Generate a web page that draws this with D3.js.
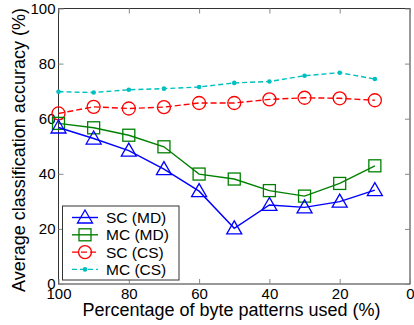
<!DOCTYPE html>
<html><head><meta charset="utf-8">
<script src="https://cdn.jsdelivr.net/npm/d3@7"></script>
<style>body{margin:0;background:#fff;} svg{display:block;}</style>
</head><body>
<svg id="chart" width="414" height="325"></svg>
<script>
const xValues = [100, 90, 80, 70, 60, 50, 40, 30, 20, 10];
const scMD = [56.8, 52.8, 48.4, 41.7, 33.7, 20.2, 28.7, 27.8, 29.9, 34.1];
const mcMD = [58.3, 56.7, 54.0, 49.8, 39.9, 38.1, 33.9, 31.9, 36.5, 42.9];
const scCS = [61.9, 64.3, 63.7, 64.2, 65.7, 65.7, 67.0, 67.6, 67.4, 66.7];
const mcCS = [69.8, 69.5, 70.5, 70.9, 71.5, 73.0, 73.5, 75.6, 76.7, 74.4];
const xTicks = [100, 80, 60, 40, 20, 0];
const yTicks = [0, 20, 40, 60, 80, 100];
const seriesNames = ["SC (MD)", "MC (MD)", "SC (CS)", "MC (CS)"];

const series = [
  {name: seriesNames[0], values: scMD, color: "#0000ff", marker: "triangle", dash: null},
  {name: seriesNames[1], values: mcMD, color: "#008000", marker: "square", dash: null},
  {name: seriesNames[2], values: scCS, color: "#ff0000", marker: "circle", dash: "6,3"},
  {name: seriesNames[3], values: mcCS, color: "#00bfbf", marker: "dot", dash: "5,3"}
];

const svg = d3.select("#chart");
const L = 58.5, R = 410, T = 8.5, B = 284;
const x = d3.scaleLinear().domain([100, 0]).range([L, R]);
const y = d3.scaleLinear().domain([0, 100]).range([B, T]);
const font = "'Liberation Sans', Arial, sans-serif";

// frame
svg.append("rect").attr("x", L).attr("y", T).attr("width", R - L).attr("height", B - T)
  .attr("fill", "none").attr("stroke", "#333").attr("stroke-width", 1);

// axes (ticks inward)
const xAxisB = d3.axisBottom(x).tickValues(xTicks).tickSize(-5).tickPadding(4).tickFormat(d3.format("d"));
const gxb = svg.append("g").attr("transform", `translate(0,${B})`).call(xAxisB);
const gxt = svg.append("g").attr("transform", `translate(0,${T})`).call(d3.axisTop(x).tickValues(xTicks).tickSize(-5).tickFormat(""));
const gyl = svg.append("g").attr("transform", `translate(${L},0)`).call(d3.axisLeft(y).tickValues(yTicks).tickSize(-5).tickPadding(3).tickFormat(d3.format("d")));
const gyr = svg.append("g").attr("transform", `translate(${R},0)`).call(d3.axisRight(y).tickValues(yTicks).tickSize(-5).tickFormat(""));
[gxb, gxt, gyl, gyr].forEach(g => {
  g.select(".domain").remove();
  g.selectAll(".tick line").attr("stroke", "#888");
  g.selectAll("text").attr("font-family", font).attr("font-size", 15).attr("fill", "#000");
});
gxb.selectAll("text").attr("dy", "0.71em");

// axis titles
svg.append("text").attr("x", 231.5).attr("y", 316).attr("text-anchor", "middle")
  .attr("font-family", font).attr("font-size", 18).text("Percentage of byte patterns used (%)");
svg.append("text").attr("transform", `translate(25,150) rotate(-90)`).attr("text-anchor", "middle")
  .attr("font-family", font).attr("font-size", 18).text("Average classification accuracy (%)");

function drawMarker(g, type, color) {
  if (type === "triangle") {
    g.append("path").attr("d", "M0,-7.5L7.5,5.5L-7.5,5.5Z").attr("fill", "none").attr("stroke", color).attr("stroke-width", 1.3);
  } else if (type === "square") {
    g.append("rect").attr("x", -6).attr("y", -6).attr("width", 12).attr("height", 12).attr("fill", "none").attr("stroke", color).attr("stroke-width", 1.3);
  } else if (type === "circle") {
    g.append("circle").attr("r", 6.5).attr("fill", "none").attr("stroke", color).attr("stroke-width", 1.3);
  } else {
    g.append("circle").attr("r", 2.3).attr("fill", color);
  }
}

const line = d3.line().x((d, i) => x(xValues[i])).y(d => y(d));
const order = [3, 2, 1, 0];
order.forEach(k => {
  const s = series[k];
  svg.append("path").datum(s.values).attr("d", line).attr("fill", "none")
    .attr("stroke", s.color).attr("stroke-width", 1.4).attr("stroke-dasharray", s.dash);
  s.values.forEach((v, i) => {
    const g = svg.append("g").attr("transform", `translate(${x(xValues[i])},${y(v)})`);
    drawMarker(g, s.marker, s.color);
  });
});

// legend
const lg = svg.append("g");
lg.append("rect").attr("x", 62.5).attr("y", 206).attr("width", 116.5).attr("height", 74)
  .attr("fill", "#fff").attr("stroke", "#333").attr("stroke-width", 1);
series.forEach((s, i) => {
  const yy = 217.5 + i * 17.3;
  lg.append("line").attr("x1", 72).attr("x2", 98).attr("y1", yy).attr("y2", yy)
    .attr("stroke", s.color).attr("stroke-width", 1.4).attr("stroke-dasharray", s.dash);
  const g = lg.append("g").attr("transform", `translate(85,${yy})`);
  drawMarker(g, s.marker, s.color);
  lg.append("text").attr("x", 106).attr("y", yy).attr("dy", "0.36em")
    .attr("font-family", font).attr("font-size", 15.5).text(s.name);
});
</script>
</body></html>
